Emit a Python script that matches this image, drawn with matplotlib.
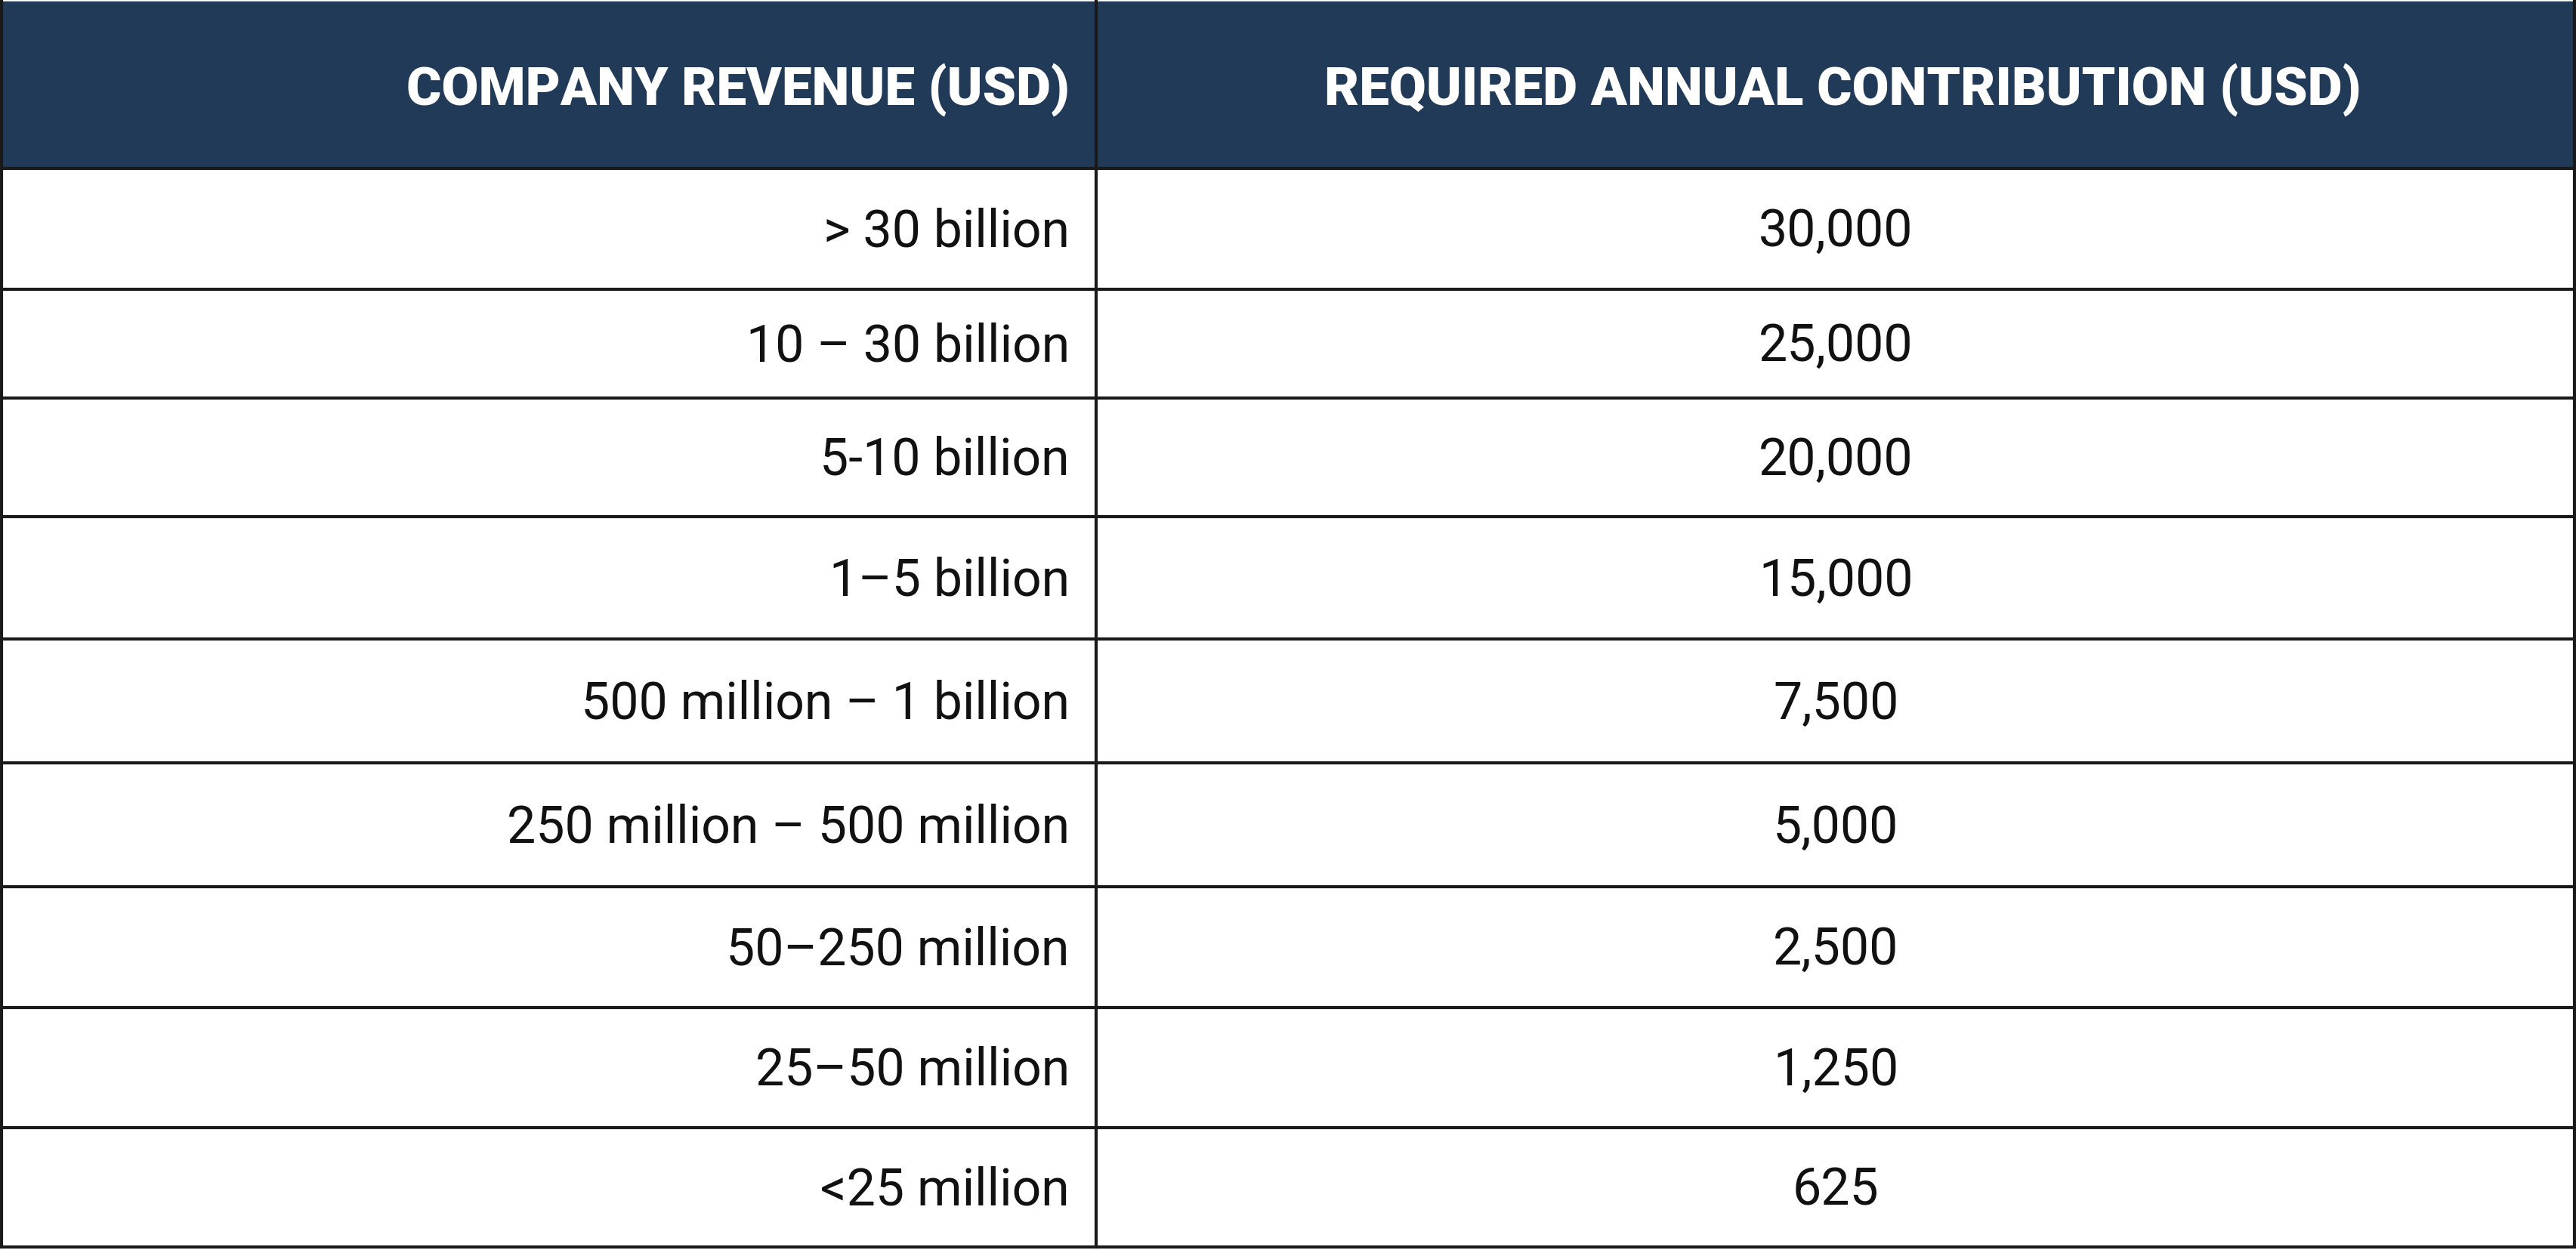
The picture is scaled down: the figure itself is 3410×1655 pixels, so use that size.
import matplotlib.pyplot as plt

headers = ['COMPANY REVENUE (USD)', 'REQUIRED ANNUAL CONTRIBUTION (USD)']
revenue = ['> 30 billion', '10 – 30 billion', '5-10 billion', '1–5 billion',
           '500 million – 1 billion', '250 million – 500 million',
           '50–250 million', '25–50 million', '<25 million']
contribution = ['30,000', '25,000', '20,000', '15,000', '7,500', '5,000',
                '2,500', '1,250', '625']

# layout in reference-image units (1568 x 757)
W, H = 1568, 757
split = 667
row_edges = [102, 175, 241, 313, 387, 462, 537, 610, 683, 755]
header_bg = '#213a57'
line_col = '#1a1a1a'

fig = plt.figure(figsize=(34.1, 16.55), dpi=100)
ax = fig.add_axes([0, 0, 1, 1])
ax.set_xlim(0, W)
ax.set_ylim(H, 0)
ax.axis('off')

ax.add_patch(plt.Rectangle((1, 1), W - 2, row_edges[0] - 1, color=header_bg, zorder=1))
ax.text(split - 16, row_edges[0] / 2 + 3, headers[0], ha='right', va='center',
        color='white', fontsize=51, fontweight='black', family='Roboto')
ax.text((split + W) / 2 + 4, row_edges[0] / 2 + 3, headers[1], ha='center', va='center',
        color='white', fontsize=51, fontweight='black', family='Roboto')

for i, (r, c) in enumerate(zip(revenue, contribution)):
    yc = (row_edges[i] + row_edges[i + 1]) / 2 + 2
    ax.text(split - 16, yc, r, ha='right', va='center', fontsize=49,
            color='#111111', family='Roboto')
    ax.text((split + W) / 2, yc, c, ha='center', va='center', fontsize=49,
            color='#111111', family='Roboto')

lw = 3
for y in row_edges:
    ax.plot([1, W - 1], [y, y], color=line_col, lw=lw, zorder=3)
ax.plot([1, 1], [1, row_edges[-1]], color=line_col, lw=lw, zorder=3)
ax.plot([W - 1, W - 1], [1, row_edges[-1]], color=line_col, lw=lw, zorder=3)
ax.plot([split, split], [0, row_edges[-1]], color=line_col, lw=lw, zorder=3)

fig.savefig('out.png', dpi=100, facecolor='white')
